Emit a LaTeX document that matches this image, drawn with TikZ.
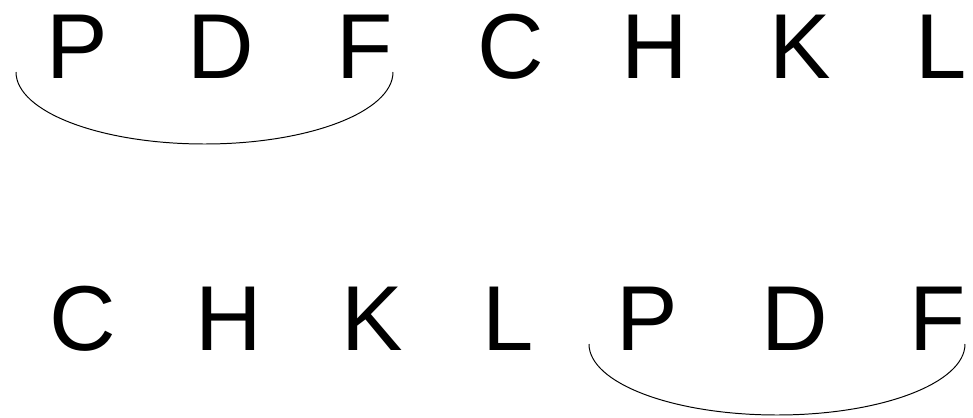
\documentclass[tikz,border=0pt]{standalone}
\usepackage{fontspec}
\setmainfont{Liberation Sans}
\begin{document}
\begin{tikzpicture}[
  letter/.style={anchor=base, inner sep=0pt, font=\fontsize{65.6}{70}\selectfont},
  brace/.style={line width=0.7pt, black},
  ]
  \useasboundingbox (0,0) rectangle (24.325,-10.45);

  %%% upper row %%%
  \foreach \lx/\lt [count=\i] in {1.925/P, 5.525/D, 9.125/F, 12.775/C, 16.375/H, 20.0/K, 23.53/L}
    \node[letter] (up\i) at (\lx,-1.95) {\lt};

  %%% lower row %%%
  \foreach \lx/\lt [count=\i] in {2.075/C, 5.725/H, 9.3/K, 12.7/L, 16.17/P, 19.875/D, 23.45/F}
    \node[letter] (low\i) at (\lx,-8.75) {\lt};

  %%% group arcs under P D F %%%
  \coordinate (upArc) at (0.4,-1.8);
  \draw[brace] (upArc) arc[start angle=180, end angle=360, x radius=4.7125, y radius=1.8];
  \coordinate (lowArc) at (14.725,-8.6);
  \draw[brace] (lowArc) arc[start angle=180, end angle=360, x radius=4.7, y radius=1.775];
\end{tikzpicture}
\end{document}
